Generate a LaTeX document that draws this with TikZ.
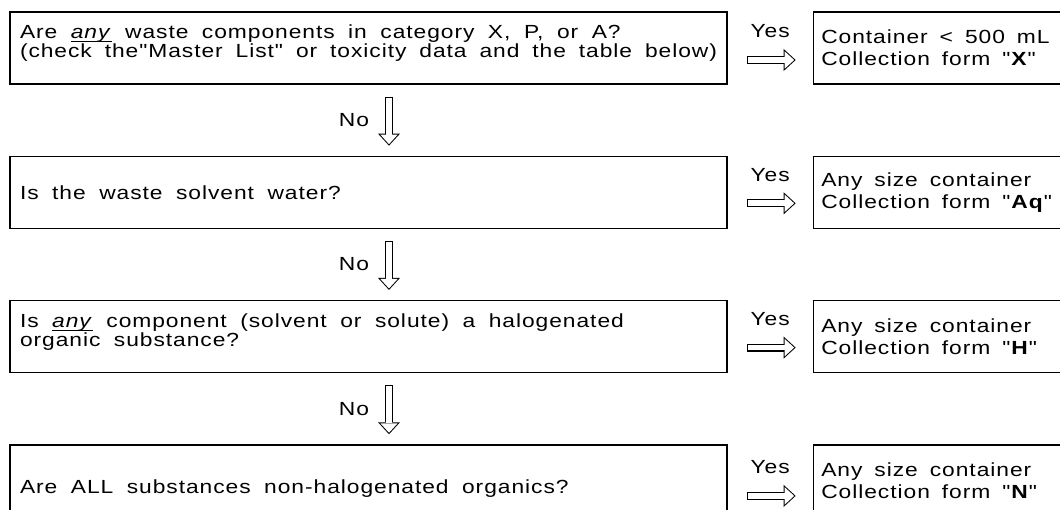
\documentclass[tikz,border=0pt]{standalone}
\usepackage{fontspec}
\setmainfont{Liberation Sans}[FakeStretch=1.2,LetterSpace=5,Ligatures=TeXOff]
\usetikzlibrary{arrows.meta,positioning}
\newcommand\undr[1]{\leavevmode\setbox0\hbox{#1}\rlap{\rule[-3.5pt]{\wd0}{1.3pt}}\box0\relax}
\newcommand\lowpad{\rule[-13pt]{0pt}{0pt}}
\newcommand\qfont{\fontsize{19}{19}\selectfont\spaceskip=13.5pt plus 2pt minus 2pt\relax}
\newcommand\afont{\fontsize{19}{22}\selectfont\spaceskip=12pt plus 2pt minus 2pt\relax}

\begin{document}
\begin{tikzpicture}[x=1pt, y=-1pt,
    question/.style={rectangle, draw, line width=1.3pt, minimum width=717pt, minimum height=72pt, text width=697pt, inner xsep=10pt, align=flush left, font=\qfont},
    action/.style={rectangle, draw, line width=1.3pt, minimum width=260pt, minimum height=72pt, text width=244pt, inner xsep=8pt, align=flush left, font=\afont},
    hollow/.style 2 args={line width=8pt, -{Triangle[length=12pt,width=22pt,line width=0pt]}, shorten <=#1pt, shorten >=#2pt,
        postaction={draw=white, line width=5.6pt, -{Triangle[length=9.5pt,width=17.4pt,line width=0pt]}, shorten <=#1pt+1.2pt, shorten >=#2pt+1.5pt}},
    lbl/.style={inner sep=0pt, font=\fontsize{19}{19}\selectfont}
]
\clip (0,0) rectangle (1060,510);

\node[question] (q1) at (368.5,48) {Are \undr{\textit{any}} waste components in category X, P, or A?\\(check the"Master List" or toxicity data and the table below)\lowpad};
\node[question, below=71pt of q1] (q2) {Is the waste solvent water?};
\node[question, below=71pt of q2] (q3) {Is \undr{\textit{any}} component (solvent or solute) a halogenated\\organic substance?\lowpad};
\node[question, below=71pt of q3, minimum height=88pt] (q4) {Are ALL substances non-halogenated organics?};

\node[action, right=85pt of q1] (a1) {Container < 500 mL\\Collection form "\textbf{X}"};
\node[action, right=85pt of q2] (a2) {Any size container\\Collection form "\textbf{Aq}"};
\node[action, right=85pt of q3] (a3) {Any size container\\Collection form "\textbf{H}"};
\node[action, anchor=north west] (a4) at ([xshift=85pt]q4.north east) {Any size container\\Collection form "\textbf{N}"};

% Yes arrows
\draw[hollow={19}{17}] ([yshift=-12pt]q1.east) -- node[lbl, above=18pt] {Yes} ([yshift=-12pt]a1.west);
\draw[hollow={19}{17}] ([yshift=-11pt]q2.east) -- node[lbl, above=18pt] {Yes} ([yshift=-11pt]a2.west);
\draw[hollow={19}{17}] ([yshift=-11pt]q3.east) -- node[lbl, above=18pt] {Yes} ([yshift=-11pt]a3.west);
\draw[hollow={19}{17}] ([yshift=-7pt]q4.east) -- node[lbl, above=18pt] {Yes} ([yshift=-15pt]a4.west);

% No arrows
\draw[hollow={12}{10}] ([xshift=20.5pt]q1.south) -- node[lbl, left=16pt] {No} ([xshift=20.5pt]q2.north);
\draw[hollow={12}{10}] ([xshift=20.5pt]q2.south) -- node[lbl, left=16pt] {No} ([xshift=20.5pt]q3.north);
\draw[hollow={12}{10}] ([xshift=20.5pt]q3.south) -- node[lbl, left=16pt] {No} ([xshift=20.5pt]q4.north);

\end{tikzpicture}
\end{document}
